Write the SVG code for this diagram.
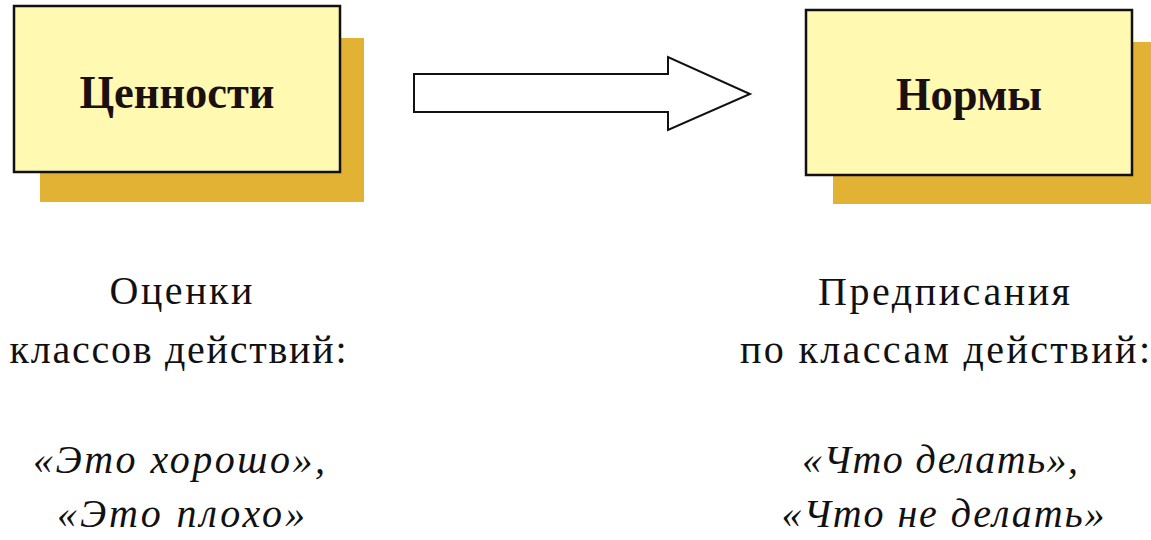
<svg xmlns="http://www.w3.org/2000/svg" width="1151" height="540" viewBox="0 0 1151 540">
<style>
.shadow{fill:#E1B234;}
.box{fill:#FFF9B2;stroke:#111;stroke-width:2.5;}
.title{font-family:"Liberation Serif","DejaVu Serif",serif;font-weight:bold;font-size:46px;fill:#1a1010;text-anchor:middle;}
.desc{font-family:"Liberation Serif","DejaVu Serif",serif;font-size:40px;fill:#111;text-anchor:middle;}
.quote{font-family:"Liberation Serif","DejaVu Serif",serif;font-style:italic;font-size:40px;fill:#111;text-anchor:middle;}
.arrow{fill:#fff;stroke:#111;stroke-width:2;stroke-linejoin:miter;}
</style>
<rect width="1151" height="540" fill="#fff"/>
<g id="node-values">
<rect class="shadow" x="40" y="38" width="324" height="164"/>
<rect class="box" x="14" y="6" width="326" height="166"/>
<text class="title" x="177" y="108" textLength="195" lengthAdjust="spacingAndGlyphs">Ценности</text>
</g>
<g id="node-norms">
<rect class="shadow" x="833" y="42" width="318" height="162"/>
<rect class="box" x="806" y="10" width="326" height="165"/>
<text class="title" x="969" y="110" textLength="146" lengthAdjust="spacingAndGlyphs">Нормы</text>
</g>
<g id="connectors">
<path class="arrow" d="M414,74 L668,74 L668,57 L750,94 L668,130 L668,112 L414,112 Z"/>
</g>
<g id="text-left">
<text class="desc" x="181" y="304" textLength="143" lengthAdjust="spacing">Оценки</text>
<text class="desc" x="178" y="363" textLength="337" lengthAdjust="spacing">классов действий:</text>
<text class="quote" x="179" y="473" textLength="292" lengthAdjust="spacing">«Это хорошо»,</text>
<text class="quote" x="181" y="527" textLength="248" lengthAdjust="spacing">«Это плохо»</text>
</g>
<g id="text-right">
<text class="desc" x="944" y="305" textLength="252" lengthAdjust="spacing">Предписания</text>
<text class="desc" x="945" y="363" textLength="410" lengthAdjust="spacing">по классам действий:</text>
<text class="quote" x="940" y="473" textLength="276" lengthAdjust="spacing">«Что делать»,</text>
<text class="quote" x="943" y="527" textLength="323" lengthAdjust="spacing">«Что не делать»</text>
</g>
</svg>
